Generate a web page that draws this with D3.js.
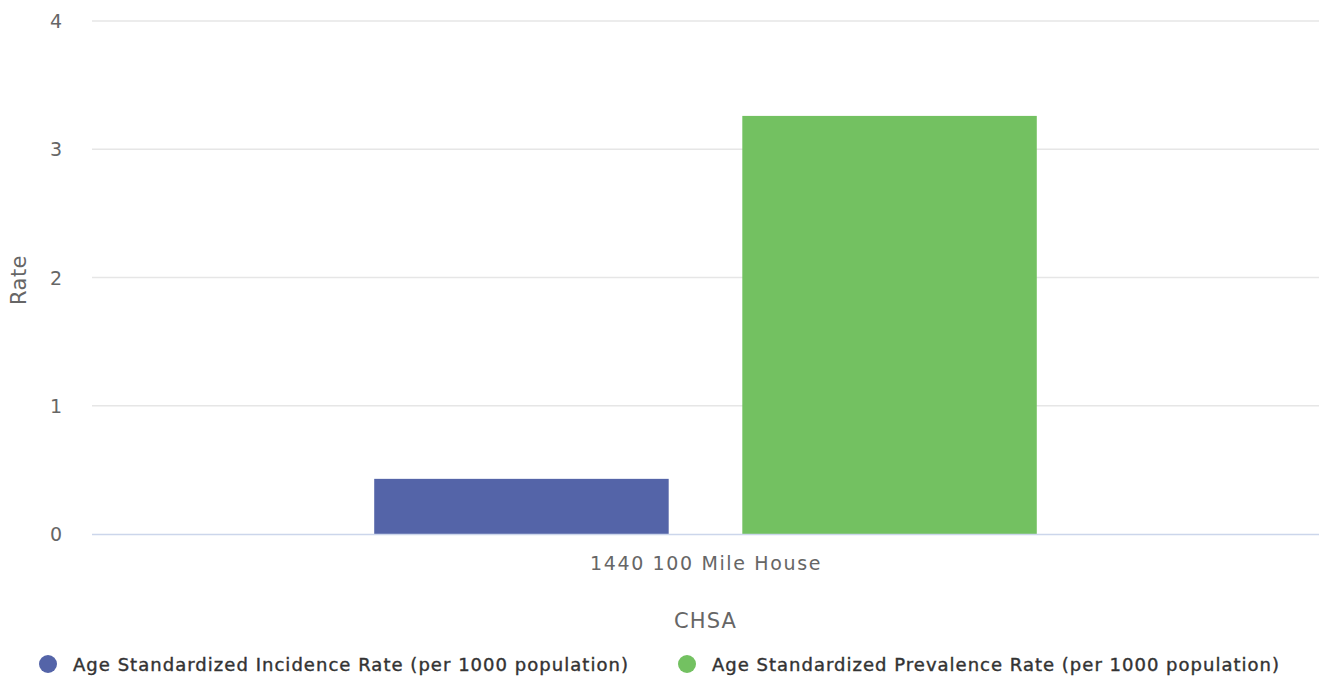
<!DOCTYPE html>
<html><head><meta charset="utf-8">
<script src="https://cdn.jsdelivr.net/npm/d3@7"></script>
<style>body{margin:0;background:#fff}svg{display:block}</style>
</head><body>
<script>
const categories = ["1440 100 Mile House"];
const seriesNames = ["Age Standardized Incidence Rate (per 1000 population)", "Age Standardized Prevalence Rate (per 1000 population)"];
const seriesValues = [[0.43], [3.26]];
const seriesColors = ["#5464a8", "#73c161"];
const yTicks = [0, 1, 2, 3, 4];

const W = 1319, H = 677;
const m = {left: 92, right: 0, top: 21, bottom: 143};
const svg = d3.select("body").append("svg").attr("width", W).attr("height", H);
const font = "'DejaVu Sans', Verdana, sans-serif";

const y = d3.scaleLinear().domain([0, 4]).range([H - m.bottom, m.top]);
const x0 = d3.scaleBand().domain(categories).range([m.left, W - m.right]).paddingInner(0).paddingOuter(0);
const groupPad = 0.2;

function fitWidth(sel, target) {
  const n = sel.text().length;
  const w = sel.node().getComputedTextLength();
  sel.attr("letter-spacing", (target - w) / n);
}

// grid
svg.append("g").selectAll("line").data(yTicks.filter(d => d > 0)).join("line")
  .attr("x1", m.left).attr("x2", W).attr("y1", d => y(d)).attr("y2", d => y(d))
  .attr("stroke", "#e6e6e6").attr("stroke-width", 1.5);

// y tick labels
svg.append("g").selectAll("text").data(yTicks).join("text")
  .attr("x", 62).attr("y", d => y(d) + 7).attr("text-anchor", "end")
  .attr("font-family", font).attr("font-size", 19).attr("fill", "#666").text(d => d);

// bars
categories.forEach((c, ci) => {
  const gStart = x0(c) + x0.bandwidth() * groupPad;
  const gW = x0.bandwidth() * (1 - 2 * groupPad);
  const x1 = d3.scaleBand().domain(seriesNames).range([gStart, gStart + gW]).paddingInner(0.2).paddingOuter(0.1);
  seriesNames.forEach((s, si) => {
    const v = seriesValues[si][ci];
    svg.append("rect").attr("x", x1(s)).attr("width", x1.bandwidth())
      .attr("y", y(v)).attr("height", y(0) - y(v)).attr("fill", seriesColors[si]);
  });
});

// x axis line
svg.append("line").attr("x1", m.left).attr("x2", W).attr("y1", y(0) + 0.5).attr("y2", y(0) + 0.5)
  .attr("stroke", "#ccd6eb").attr("stroke-width", 1.5);

// category labels
svg.append("g").selectAll("text").data(categories).join("text")
  .attr("x", d => x0(d) + x0.bandwidth() / 2).attr("y", 570).attr("text-anchor", "start")
  .attr("font-family", font).attr("font-size", 19).attr("fill", "#666").text(d => d)
  .each(function() { const t = d3.select(this); fitWidth(t, 232); t.attr("x", 590); });

// axis titles
const chsa = svg.append("text").attr("x", 674).attr("y", 628)
  .attr("font-family", font).attr("font-size", 21).attr("fill", "#666").text("CHSA");
fitWidth(chsa, 63);
const rate = svg.append("text").attr("transform", "translate(26,305) rotate(-90)")
  .attr("font-family", font).attr("font-size", 21).attr("fill", "#666").text("Rate");
fitWidth(rate, 50);

// legend
const legX = [48, 687];
const legW = [556, 568];
seriesNames.forEach((s, i) => {
  svg.append("circle").attr("cx", legX[i]).attr("cy", 664).attr("r", 9).attr("fill", seriesColors[i]);
  const t = svg.append("text").attr("x", legX[i] + 25).attr("y", 671).attr("font-family", font)
    .attr("font-size", 18).attr("fill", "#333").attr("stroke", "#333").attr("stroke-width", 0.4).text(s);
  fitWidth(t, legW[i]);
});
</script>
</body></html>
